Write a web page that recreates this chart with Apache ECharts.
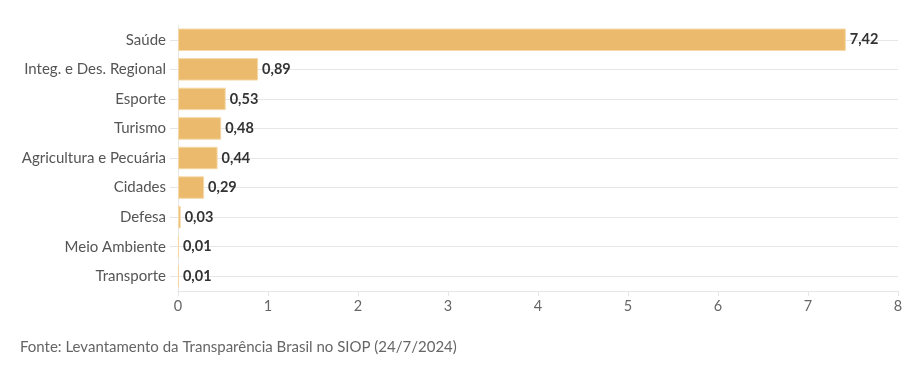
<!DOCTYPE html>
<html><head><meta charset="utf-8">
<script src="https://cdn.jsdelivr.net/npm/echarts@6/dist/echarts.min.js"></script>
<style>html,body{margin:0;padding:0;background:#fff}#c{width:911px;height:365px}</style>
</head><body><div id="c"></div>
<script>
const categories = ["Saúde","Integ. e Des. Regional","Esporte","Turismo","Agricultura e Pecuária","Cidades","Defesa","Meio Ambiente","Transporte"];
const values = [7.42,0.89,0.53,0.48,0.44,0.29,0.03,0.01,0.01];
const xTicks = [0,1,2,3,4,5,6,7,8];
const sourceText = "Fonte: Levantamento da Transparência Brasil no SIOP (24/7/2024)";
const FONT = "Lato";
const chart = echarts.init(document.getElementById('c'));
chart.setOption({
  animation:false,
  textStyle:{fontFamily:FONT},
  grid:{left:178,right:13,top:25,bottom:74},
  graphic:[{type:'text',left:20,top:340,style:{text:sourceText,font:'15px '+FONT,fill:'#666'}}],
  xAxis:{type:'value',min:xTicks[0],max:xTicks[xTicks.length-1],interval:1,
    axisLine:{show:true,lineStyle:{color:'#e6e6e6'}},
    axisTick:{show:true,length:5,lineStyle:{color:'#e6e6e6'}},
    axisLabel:{color:'#666',fontSize:14.5,margin:8,fontFamily:FONT},
    splitLine:{show:false}},
  yAxis:{type:'category',inverse:true,data:categories,
    axisLine:{show:true,lineStyle:{color:'#e6e6e6'}},
    axisTick:{show:true,alignWithLabel:true,length:8,lineStyle:{color:'#e6e6e6'}},
    splitLine:{show:true,alignWithLabel:true,lineStyle:{color:'#e6e6e6'}},
    axisLabel:{color:'#555',fontSize:15,margin:12,fontFamily:FONT}},
  series:[{type:'bar',data:values,barCategoryGap:'24%',
    itemStyle:{color:'#ebba6d',borderColor:'#f4d8a6',borderWidth:1},
    label:{show:true,position:'right',distance:4,color:'#333',fontWeight:'bold',fontSize:14.5,fontFamily:FONT,
      formatter:p=>p.value.toFixed(2).replace('.',',')}}]
});
</script></body></html>
